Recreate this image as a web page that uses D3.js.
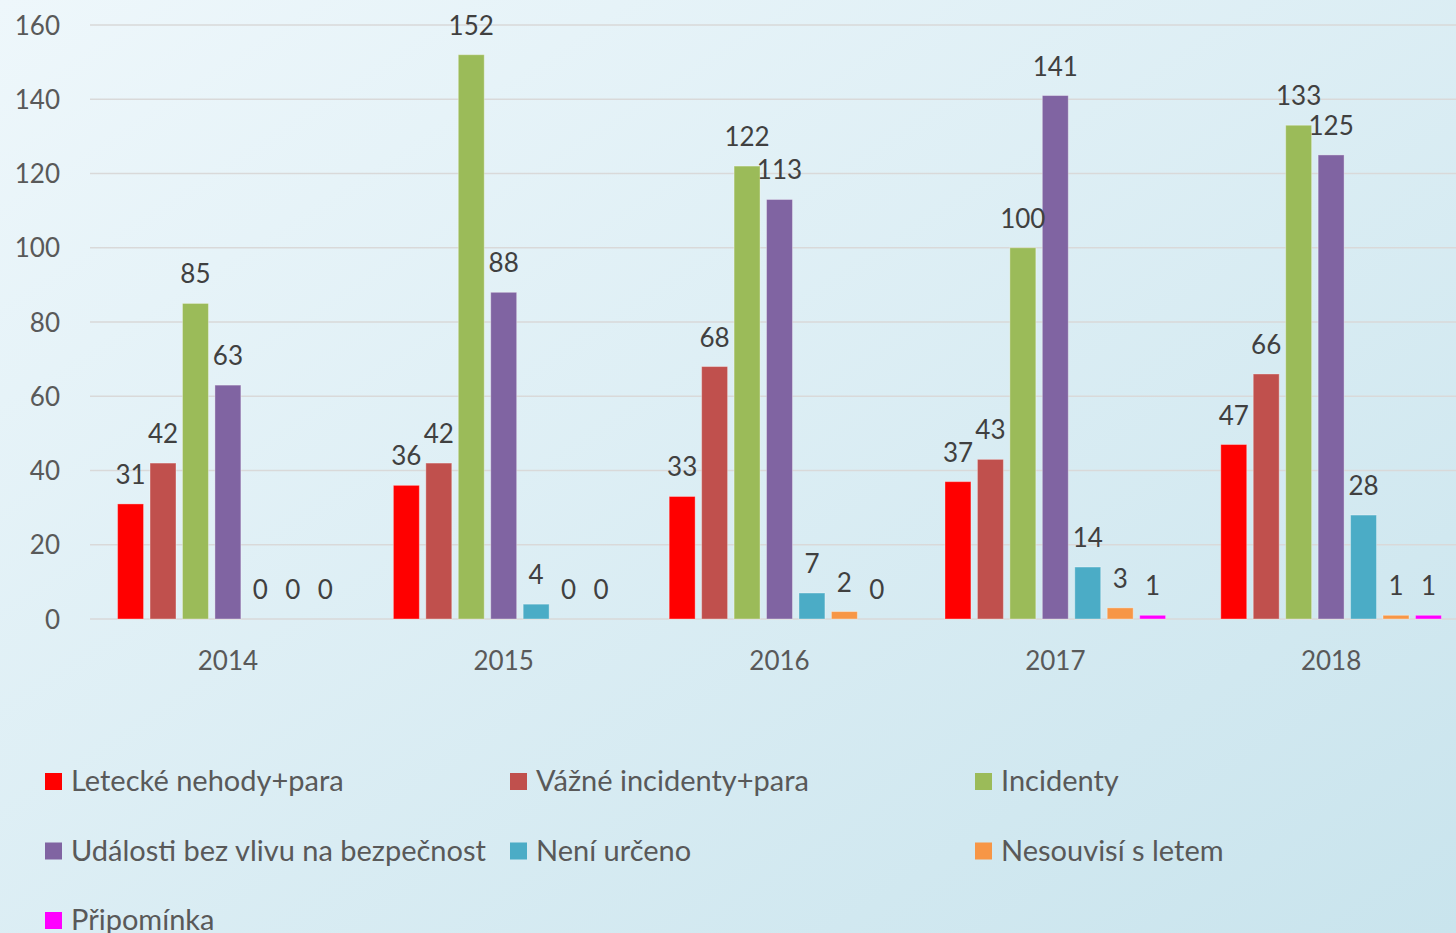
<!DOCTYPE html>
<html>
<head>
<meta charset="utf-8">
<script src="https://cdn.jsdelivr.net/npm/d3@7"></script>
<style>
  html, body { margin: 0; padding: 0; }
  body { width: 1456px; height: 933px; overflow: hidden; }
  text { font-family: Lato, "Open Sans", sans-serif; }
</style>
</head>
<body>
<div id="chart"></div>
<script>
// Categories and series
const years = ["2014", "2015", "2016", "2017", "2018"];
const seriesNames = [
    "Letecké nehody+para",
    "Vážné incidenty+para",
    "Incidenty",
    "Události bez vlivu na bezpečnost",
    "Není určeno",
    "Nesouvisí s letem",
    "Připomínka"
];
const seriesColors = ["#ff0000", "#c0504d", "#9bbb59", "#8064a2", "#4bacc6", "#f79646", "#ff00ff"];

const letecke   = [31, 36, 33, 37, 47];
const vazne     = [42, 42, 68, 43, 66];
const incidenty = [85, 152, 122, 100, 133];
const udalosti  = [63, 88, 113, 141, 125];
const neniUrceno = [0, 4, 7, 14, 28];
const nesouvisi = [0, 0, 2, 3, 1];
const pripominka = [0, 0, 0, 1, 1];
const yTicks = [0, 20, 40, 60, 80, 100, 120, 140, 160];

const values = [letecke, vazne, incidenty, udalosti, neniUrceno, nesouvisi, pripominka];

const W = 1456, H = 933;

const svg = d3.select("#chart")
    .append("svg")
    .attr("width", W)
    .attr("height", H);

// Background gradient
const grad = svg.append("defs").append("linearGradient")
    .attr("id", "bg")
    .attr("x1", "0%").attr("y1", "0%")
    .attr("x2", "100%").attr("y2", "100%");
grad.append("stop").attr("offset", "0%").attr("stop-color", "#eef7fb");
grad.append("stop").attr("offset", "100%").attr("stop-color", "#c9e4ed");
svg.append("rect").attr("width", W).attr("height", H).attr("fill", "url(#bg)");

// Scales
const x0 = d3.scaleBand()
    .domain(years)
    .range([90, 1469])
    .paddingInner(0.2)
    .paddingOuter(0.1);

const x1 = d3.scaleBand()
    .domain(d3.range(seriesNames.length))
    .range([0, x0.bandwidth()])
    .paddingInner(0.2);

const y = d3.scaleLinear()
    .domain([0, 160])
    .range([619, 25]);

// Gridlines
svg.append("g")
    .selectAll("line")
    .data(yTicks)
    .enter()
    .append("line")
    .attr("x1", 90)
    .attr("x2", W)
    .attr("y1", d => y(d))
    .attr("y2", d => y(d))
    .attr("stroke", "#d9d9d9")
    .attr("stroke-width", 1.5);

// Y axis labels
const yAxis = svg.append("g")
    .attr("transform", "translate(60,0)")
    .call(d3.axisLeft(y).tickValues(yTicks).tickSize(0).tickPadding(0));
yAxis.select(".domain").remove();
yAxis.selectAll("text")
    .attr("fill", "#595959")
    .style("font-size", "26px")
    .attr("dy", "0.35em");

// X axis labels
const xAxis = svg.append("g")
    .attr("transform", "translate(0,652)")
    .call(d3.axisBottom(x0).tickSize(0).tickPadding(0));
xAxis.select(".domain").remove();
xAxis.selectAll("text")
    .attr("fill", "#595959")
    .style("font-size", "26px");

// Bars
const groups = svg.append("g")
    .selectAll("g")
    .data(years)
    .enter()
    .append("g")
    .attr("transform", d => "translate(" + x0(d) + ",0)");

const cells = groups.selectAll(".cell")
    .data((d, i) => values.map((s, k) => ({ k: k, v: s[i] })))
    .enter();

cells.append("rect")
    .attr("x", d => x1(d.k))
    .attr("y", d => y(d.v))
    .attr("width", x1.bandwidth())
    .attr("height", d => y(0) - y(d.v))
    .attr("fill", d => seriesColors[d.k])
    .attr("stroke", d => d.v > 0 ? "rgba(255,255,255,0.35)" : "none")
    .attr("stroke-width", 1);

// Data labels
cells.append("text")
    .attr("x", d => x1(d.k) + x1.bandwidth() / 2)
    .attr("y", d => y(d.v) - 20)
    .attr("text-anchor", "middle")
    .attr("fill", "#404040")
    .style("font-size", "26px")
    .text(d => d.v);

// Legend
const legend = svg.append("g")
    .selectAll("g")
    .data(seriesNames)
    .enter()
    .append("g")
    .attr("transform", (d, i) => "translate(" + (45 + (i % 3) * 465) + "," + (781 + Math.floor(i / 3) * 69.5) + ")");

legend.append("rect")
    .attr("x", 0)
    .attr("y", -8)
    .attr("width", 17)
    .attr("height", 17)
    .attr("fill", (d, i) => seriesColors[i]);

legend.append("text")
    .attr("x", 26)
    .attr("y", 0)
    .attr("dy", "0.35em")
    .attr("fill", "#595959")
    .style("font-size", "29px")
    .text(d => d);
</script>
</body>
</html>
